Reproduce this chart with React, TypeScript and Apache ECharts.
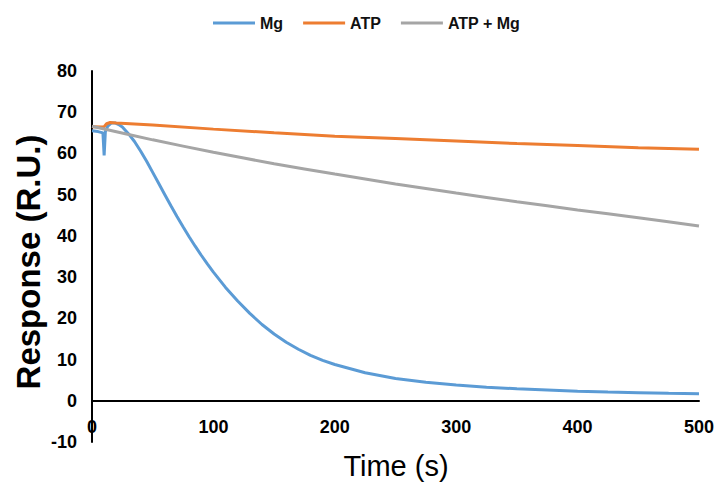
import React, { useEffect, useRef } from "react";
import * as echarts from "echarts";

const seriesNames = ["Mg", "ATP", "ATP + Mg"];
const colors = ["#5B9BD5", "#ED7D31", "#A5A5A5"];

const mgTime = [0, 5, 9, 10, 11, 13, 16, 19, 22, 25, 30, 35, 40, 45, 50, 55, 60, 65, 70, 75, 80, 85, 90, 95, 100, 110, 120, 130, 140, 150, 160, 170, 180, 190, 200, 225, 250, 275, 300, 325, 350, 375, 400, 425, 450, 475, 500];
const mgValues = [65.5, 65.3, 65.0, 59.5, 65.3, 66.6, 67.4, 67.4, 67.0, 66.4, 64.8, 62.9, 60.6, 58.1, 55.4, 52.7, 50.0, 47.3, 44.7, 42.2, 39.8, 37.5, 35.3, 33.2, 31.2, 27.5, 24.2, 21.2, 18.5, 16.2, 14.2, 12.5, 11.0, 9.8, 8.8, 6.8, 5.4, 4.5, 3.8, 3.3, 2.9, 2.6, 2.3, 2.1, 1.95, 1.8, 1.7];

const atpTime = [0, 9, 10, 12, 15, 20, 50, 100, 150, 200, 250, 300, 350, 400, 450, 500];
const atpValues = [66.5, 66.4, 66.5, 67.2, 67.5, 67.4, 66.9, 65.9, 65.0, 64.2, 63.6, 63.0, 62.4, 61.9, 61.4, 61.0];

const bothTime = [0, 50, 100, 150, 200, 250, 300, 350, 400, 450, 500];
const bothValues = [66.6, 63.3, 60.3, 57.5, 55.0, 52.6, 50.4, 48.3, 46.3, 44.4, 42.4];

const xTicks = { min: 0, max: 500, interval: 100 };
const yTicks = { min: -10, max: 80, interval: 10 };

const zip = (t: number[], v: number[]) => t.map((x, i) => [x, v[i]]);

const GRID_TOP = 71;
const GRID_BOTTOM = 42;
const CHART_H = 484;

export default function App() {
  const ref = useRef<HTMLDivElement>(null);
  useEffect(() => {
    if (!ref.current) return;
    const chart = echarts.init(ref.current, undefined, { renderer: "svg" });
    const font = "'Liberation Sans', Arial, sans-serif";
    const plotH = CHART_H - GRID_TOP - GRID_BOTTOM;
    // distance from the bottom of the plot (y = min) up to y = 0
    const zeroOffset = (plotH * (0 - yTicks.min)) / (yTicks.max - yTicks.min);
    chart.setOption({
      animation: false,
      color: colors,
      legend: {
        left: 213,
        top: 15,
        padding: 0,
        icon: "rect",
        itemWidth: 42,
        itemHeight: 3,
        itemGap: 20,
        textStyle: { fontFamily: font, fontWeight: "bold", fontSize: 16, color: "#111" },
        data: seriesNames,
      },
      grid: { left: 92, right: 17, top: GRID_TOP, bottom: GRID_BOTTOM },
      xAxis: {
        type: "value",
        min: xTicks.min,
        max: xTicks.max,
        interval: xTicks.interval,
        offset: -zeroOffset,
        axisLine: { onZero: false, lineStyle: { color: "#000", width: 2 } },
        axisTick: { show: false },
        splitLine: { show: false },
        axisLabel: { margin: 17, fontFamily: font, fontWeight: "bold", fontSize: 18, color: "#000" },
      },
      yAxis: {
        type: "value",
        min: yTicks.min,
        max: yTicks.max,
        interval: yTicks.interval,
        axisLine: { show: true, onZero: false, lineStyle: { color: "#000", width: 2 } },
        axisTick: { show: false },
        splitLine: { show: false },
        axisLabel: { margin: 15, fontFamily: font, fontWeight: "bold", fontSize: 18, color: "#000" },
      },
      graphic: [
        {
          type: "text",
          x: 28.5,
          y: 262,
          rotation: Math.PI / 2,
          style: {
            text: "Response (R.U.)",
            fontFamily: font,
            fontWeight: "bold",
            fontSize: 33,
            fill: "#000",
            align: "center",
            verticalAlign: "middle",
          },
        },
        {
          type: "text",
          x: 396,
          y: 466,
          style: {
            text: "Time (s)",
            fontFamily: font,
            fontSize: 29,
            fill: "#000",
            align: "center",
            verticalAlign: "middle",
          },
        },
      ],
      series: [
        { name: seriesNames[0], type: "line", symbol: "none", data: zip(mgTime, mgValues), lineStyle: { width: 3 } },
        { name: seriesNames[1], type: "line", symbol: "none", data: zip(atpTime, atpValues), lineStyle: { width: 3 } },
        { name: seriesNames[2], type: "line", symbol: "none", smooth: 0.3, data: zip(bothTime, bothValues), lineStyle: { width: 3 } },
      ],
    });
    return () => chart.dispose();
  }, []);
  return <div ref={ref} style={{ width: 717, height: 484, position: "absolute", left: 0, top: 0 }} />;
}
